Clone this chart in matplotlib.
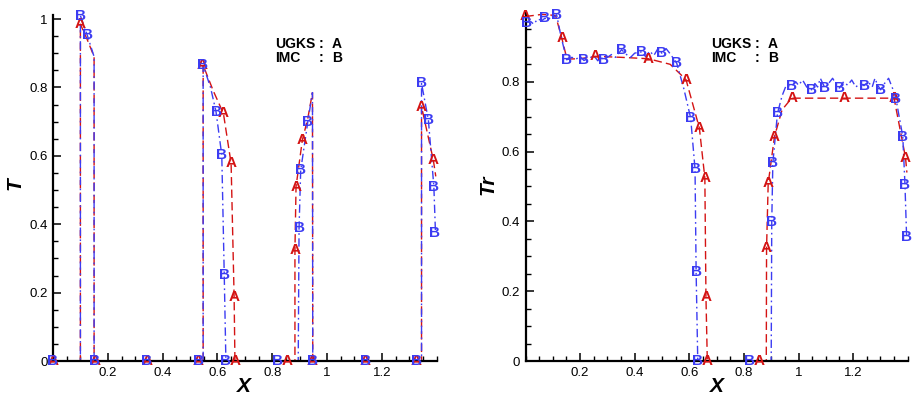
import matplotlib
matplotlib.use("Agg")
import matplotlib.pyplot as plt
from matplotlib.ticker import MultipleLocator, FuncFormatter

plt.rcParams['font.family'] = ['Liberation Sans', 'DejaVu Sans']

RED = '#d41414'
BLUE = '#3c3cf2'

# ---------------- Left panel: T ----------------
T_ugks_x = [0, 0.1, 0.1, 0.125, 0.15, 0.15, 0.548, 0.548, 0.585, 0.622, 0.65, 0.661, 0.664,
            0.883, 0.883, 0.887, 0.91, 0.93, 0.947, 0.948, 1.345, 1.345, 1.388, 1.397]
T_ugks_y = [0, 0, 0.985, 0.94, 0.89, 0, 0, 0.865, 0.79, 0.724, 0.578, 0.188, 0,
            0, 0.325, 0.51, 0.646, 0.71, 0.785, 0, 0, 0.744, 0.588, 0.54]
T_imc_x = [0, 0.1, 0.1, 0.125, 0.15, 0.15, 0.548, 0.548, 0.575, 0.595, 0.616, 0.625, 0.631,
           0.895, 0.898, 0.904, 0.93, 0.947, 0.948, 1.345, 1.345, 1.37, 1.39, 1.396]
T_imc_y = [0, 0, 1.01, 0.953, 0.89, 0, 0, 0.865, 0.80, 0.729, 0.602, 0.251, 0,
           0, 0.388, 0.558, 0.70, 0.785, 0, 0, 0.812, 0.705, 0.51, 0.373]

T_ugks_mx = [0, 0.1, 0.153, 0.342, 0.53, 0.546, 0.622, 0.650, 0.661, 0.664, 0.853, 0.883,
             0.887, 0.91, 0.946, 1.139, 1.327, 1.345, 1.388]
T_ugks_my = [0, 0.985, 0, 0, 0, 0.865, 0.724, 0.578, 0.188, 0, 0, 0.325,
             0.51, 0.646, 0, 0, 0, 0.744, 0.588]
T_imc_mx = [0, 0.1, 0.125, 0.153, 0.342, 0.53, 0.546, 0.595, 0.616, 0.625, 0.631, 0.819,
            0.898, 0.904, 0.93, 0.946, 1.139, 1.327, 1.345, 1.37, 1.39, 1.394]
T_imc_my = [0, 1.01, 0.953, 0, 0, 0, 0.865, 0.729, 0.602, 0.251, 0, 0,
            0.388, 0.558, 0.70, 0, 0, 0, 0.812, 0.705, 0.51, 0.373]

# ---------------- Right panel: Tr ----------------
Tr_ugks_x = [0, 0.06, 0.11, 0.133, 0.152, 0.2, 0.255, 0.35, 0.45, 0.53, 0.588, 0.637, 0.657,
             0.661, 0.666, 0.882, 0.883, 0.889, 0.912, 0.94, 0.975, 1.167, 1.35, 1.392, 1.397]
Tr_ugks_y = [0.987, 0.993, 0.99, 0.925, 0.865, 0.866, 0.873, 0.87, 0.866, 0.85, 0.806, 0.667,
             0.524, 0.184, 0, 0, 0.323, 0.509, 0.643, 0.72, 0.753, 0.753, 0.753, 0.583, 0.54]
Tr_imc_x = [0.0, 0.02, 0.03, 0.045, 0.06, 0.071, 0.085, 0.095, 0.105, 0.114, 0.13, 0.151,
            0.17, 0.185, 0.2, 0.214, 0.235, 0.25, 0.265, 0.275, 0.286, 0.3, 0.315, 0.33,
            0.352, 0.37, 0.385, 0.4, 0.426, 0.44, 0.455, 0.47, 0.485, 0.499, 0.515, 0.53,
            0.554, 0.58, 0.605, 0.621, 0.625, 0.631, 0.9, 0.902, 0.906, 0.923, 0.94, 0.955,
            0.975, 0.99, 1.0, 1.015, 1.03, 1.048, 1.06, 1.07, 1.08, 1.097, 1.11, 1.125,
            1.14, 1.15, 1.165, 1.18, 1.195, 1.21, 1.225, 1.24, 1.255, 1.27, 1.28, 1.29,
            1.301, 1.315, 1.33, 1.345, 1.357, 1.382, 1.39, 1.396]
Tr_imc_y = [0.97, 0.972, 0.965, 0.98, 0.975, 0.982, 0.978, 0.99, 0.985, 0.992, 0.93, 0.863,
            0.87, 0.865, 0.872, 0.861, 0.868, 0.875, 0.86, 0.872, 0.862, 0.87, 0.878, 0.87,
            0.892, 0.878, 0.87, 0.882, 0.886, 0.872, 0.888, 0.875, 0.895, 0.882, 0.895, 0.88,
            0.853, 0.78, 0.696, 0.55, 0.256, 0, 0, 0.397, 0.567, 0.71, 0.76, 0.79,
            0.787, 0.8, 0.79, 0.805, 0.785, 0.777, 0.795, 0.785, 0.81, 0.782, 0.795, 0.81,
            0.79, 0.782, 0.8, 0.79, 0.805, 0.785, 0.795, 0.789, 0.8, 0.785, 0.81, 0.79,
            0.777, 0.795, 0.81, 0.78, 0.751, 0.643, 0.505, 0.356]

Tr_ugks_mx = [0, 0.133, 0.255, 0.45, 0.588, 0.637, 0.657, 0.661, 0.666, 0.856, 0.883, 0.889,
              0.912, 0.975, 1.167, 1.35, 1.392]
Tr_ugks_my = [0.987, 0.925, 0.873, 0.866, 0.806, 0.667, 0.524, 0.184, 0, 0, 0.323, 0.509,
              0.643, 0.753, 0.753, 0.753, 0.583]
Tr_imc_mx = [0.004, 0.071, 0.114, 0.151, 0.214, 0.286, 0.352, 0.426, 0.499, 0.554, 0.605,
             0.621, 0.625, 0.631, 0.822, 0.902, 0.906, 0.923, 0.975, 1.048, 1.097, 1.150,
             1.240, 1.301, 1.357, 1.382, 1.39, 1.396]
Tr_imc_my = [0.968, 0.982, 0.992, 0.863, 0.861, 0.862, 0.892, 0.886, 0.882, 0.853, 0.696,
             0.550, 0.256, 0, 0, 0.397, 0.567, 0.710, 0.787, 0.777, 0.782, 0.782,
             0.789, 0.777, 0.751, 0.643, 0.505, 0.356]

x_major = [0.2, 0.4, 0.6, 0.8, 1.0, 1.2]

W, H = 915, 398
fig = plt.figure(figsize=(W / 100, H / 100), dpi=100)


def add_ax(l, r, t, b):
    return fig.add_axes([l / W, 1 - b / H, (r - l) / W, (b - t) / H])


def style(ax, ylim):
    ax.set_xlim(0, 1.4)
    ax.set_ylim(*ylim)
    for s in ['top', 'right']:
        ax.spines[s].set_visible(False)
    for s in ['left', 'bottom']:
        ax.spines[s].set_linewidth(1.6)
    ax.set_xticks(x_major)
    ax.xaxis.set_minor_locator(MultipleLocator(0.05))
    ax.yaxis.set_major_locator(MultipleLocator(0.2))
    ax.yaxis.set_minor_locator(MultipleLocator(0.05))
    fmt = FuncFormatter(lambda v, p: '%g' % round(v, 3))
    ax.xaxis.set_major_formatter(fmt)
    ax.yaxis.set_major_formatter(fmt)
    ax.tick_params(which='major', direction='in', length=6, width=1.1, labelsize=9.5, pad=4)
    ax.tick_params(which='minor', direction='in', length=3.5, width=1.0)


def draw(ax, lx, ly, mx, my, color, ls, letter):
    ax.plot(lx, ly, color=color, lw=1.0, ls=ls, zorder=2)
    for xv, yv in zip(mx, my):
        ax.text(xv, yv, letter, color=color, fontsize=11, fontweight='bold',
                ha='center', va='center', zorder=3, clip_on=False)


ax1 = add_ax(53, 436.6, 15, 361)
style(ax1, (0, 1.012))
draw(ax1, T_ugks_x, T_ugks_y, T_ugks_mx, T_ugks_my, RED, (0, (6, 3)), 'A')
draw(ax1, T_imc_x, T_imc_y, T_imc_mx, T_imc_my, BLUE, (0, (6, 2.5, 1.2, 2.5)), 'B')

ax2 = add_ax(525.5, 907.7, 13, 361)
style(ax2, (0, 0.997))
draw(ax2, Tr_ugks_x, Tr_ugks_y, Tr_ugks_mx, Tr_ugks_my, RED, (0, (6, 3)), 'A')
draw(ax2, Tr_imc_x, Tr_imc_y, Tr_imc_mx, Tr_imc_my, BLUE, (0, (6, 2.5, 1.2, 2.5)), 'B')

lab = dict(fontsize=15, fontweight='bold', fontstyle='italic', ha='center', va='center')
fig.text(244 / W, 1 - 386 / H, 'X', **lab)
fig.text(717 / W, 1 - 386 / H, 'X', **lab)
fig.text(15 / W, 1 - 184 / H, 'T', rotation=90, **lab)
fig.text(488 / W, 1 - 185 / H, 'Tr', rotation=90, **lab)

leg = dict(fontsize=10, fontweight='bold', va='center', ha='left', color='black')
for x0 in (275, 711):
    fig.text(x0 / W, 1 - 44 / H, 'UGKS', **leg)
    fig.text((x0 + 44) / W, 1 - 44 / H, ':', **leg)
    fig.text((x0 + 57) / W, 1 - 44 / H, 'A', **leg)
    fig.text(x0 / W, 1 - 58 / H, 'IMC', **leg)
    fig.text((x0 + 44) / W, 1 - 58 / H, ':', **leg)
    fig.text((x0 + 57) / W, 1 - 58 / H, 'B', **leg)

fig.savefig('out.png', dpi=100)
